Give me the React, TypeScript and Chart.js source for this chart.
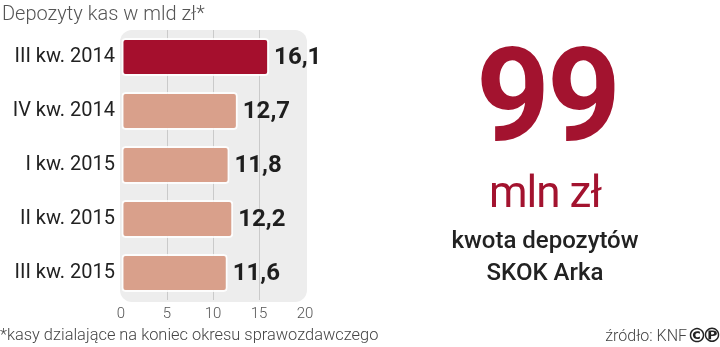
import React, { useEffect, useRef } from "react";
import { Chart, registerables } from "chart.js";

Chart.register(...registerables);

const title = "Depozyty kas w mld zł*";
const categories = ["III kw. 2014", "IV kw. 2014", "I kw. 2015", "II kw. 2015", "III kw. 2015"];
const deposits = [16.1, 12.7, 11.8, 12.2, 11.6];
const barColors = ["#A50F2D", "#D9A08B", "#D9A08B", "#D9A08B", "#D9A08B"];
const xTicks = [0, 5, 10, 15, 20];
const bigNumber = "99";
const bigUnit = "mln zł";
const caption = ["kwota depozytów", "SKOK Arka"];
const footnote = "*kasy dzialające na koniec okresu sprawozdawczego";
const source = "źródło: KNF";
const licenseMarks = ["©", "℗"];

const FONT = "Roboto, 'Noto Sans', 'DejaVu Sans', sans-serif";

const fmt = (v: number) => v.toFixed(1).replace(".", ",");

const plotBg = {
  id: "plotBg",
  beforeDraw(chart: any) {
    const { ctx, chartArea: a } = chart;
    ctx.save();
    ctx.fillStyle = "#EDEDED";
    ctx.beginPath();
    (ctx as any).roundRect(a.left - 1, a.top, a.right - a.left + 3, a.bottom - a.top + 2, 12);
    ctx.fill();
    ctx.restore();
  },
};

const valueLabels = {
  id: "valueLabels",
  afterDatasetsDraw(chart: any) {
    const { ctx } = chart;
    const meta = chart.getDatasetMeta(0);
    ctx.save();
    ctx.font = `bold 24px ${FONT}`;
    ctx.fillStyle = "#1E1E1E";
    ctx.textAlign = "left";
    ctx.textBaseline = "middle";
    meta.data.forEach((el: any, i: number) => {
      ctx.fillText(fmt(deposits[i]), el.x + 5, el.y + 1);
    });
    ctx.restore();
  },
};

function BarChart() {
  const ref = useRef<HTMLCanvasElement | null>(null);
  useEffect(() => {
    if (!ref.current) return;
    const chart = new Chart(ref.current, {
      type: "bar",
      data: {
        labels: categories,
        datasets: [
          {
            data: deposits,
            backgroundColor: barColors,
            borderColor: "rgba(255,255,255,0.85)",
            borderWidth: 2,
            borderRadius: 4,
            borderSkipped: false,
            barPercentage: 0.7,
            categoryPercentage: 1,
          },
        ],
      },
      options: {
        indexAxis: "y",
        responsive: false,
        animation: false,
        layout: { padding: { top: 30, right: 415, left: 0, bottom: 0 } },
        plugins: { legend: { display: false }, tooltip: { enabled: false } },
        scales: {
          x: {
            min: xTicks[0],
            max: xTicks[xTicks.length - 1],
            afterBuildTicks: (s: any) => {
              s.ticks = xTicks.map((v) => ({ value: v }));
            },
            ticks: {
              color: "#555",
              font: { family: FONT, size: 15, weight: "300" },
              padding: 5,
            },
            grid: {
              drawTicks: false,
              color: (c: any) =>
                c.tick && c.tick.value > xTicks[0] && c.tick.value < xTicks[xTicks.length - 1]
                  ? "#CACACA"
                  : "rgba(0,0,0,0)",
              lineWidth: 1,
            },
            border: { display: false },
            afterFit: (s: any) => {
              s.height = 47;
            },
          },
          y: {
            ticks: {
              color: "#222",
              font: { family: FONT, size: 20 },
              padding: 6,
            },
            grid: { display: false, drawTicks: false },
            border: { display: false },
            afterFit: (s: any) => {
              s.width = 121;
            },
          },
        },
      },
      plugins: [plotBg, valueLabels],
    } as any);
    return () => chart.destroy();
  }, []);
  return <canvas ref={ref} width={720} height={347} style={{ position: "absolute", left: 0, top: 0 }} />;
}

export default function App() {
  const abs: React.CSSProperties = { position: "absolute", lineHeight: 1, whiteSpace: "nowrap", fontFamily: FONT };
  const mark: React.CSSProperties = {
    ...abs,
    top: 325,
    fontSize: 20,
    fontWeight: 700,
    color: "#222",
    fontFamily: "'DejaVu Sans', sans-serif",
  };
  return (
    <div style={{ position: "fixed", left: 0, top: 0, width: 720, height: 347, background: "#fff", overflow: "hidden" }}>
      <BarChart />
      <div style={{ ...abs, left: 2, top: 3, fontSize: 20, fontWeight: 300, color: "#555" }}>{title}</div>
      <div
        style={{
          ...abs,
          left: 547,
          top: 31,
          transform: "translateX(-50%)",
          fontSize: 129,
          fontWeight: 700,
          letterSpacing: -3,
          color: "#A3132F",
        }}
      >
        {bigNumber}
      </div>
      <div
        style={{
          ...abs,
          left: 545,
          top: 170,
          transform: "translateX(-50%)",
          fontSize: 44,
          fontWeight: 400,
          letterSpacing: -1,
          color: "#A3132F",
        }}
      >
        {bigUnit}
      </div>
      <div
        style={{
          ...abs,
          left: 545,
          top: 224,
          transform: "translateX(-50%)",
          fontSize: 24,
          lineHeight: "32px",
          fontWeight: 500,
          color: "#222",
          textAlign: "center",
        }}
      >
        {caption[0]}
        <br />
        {caption[1]}
      </div>
      <div style={{ ...abs, left: 0, top: 327, fontSize: 16.4, fontWeight: 300, color: "#444" }}>{footnote}</div>
      <div style={{ ...abs, right: 33, top: 328, fontSize: 16, fontWeight: 300, color: "#444" }}>{source}</div>
      <div style={{ ...mark, left: 687 }}>{licenseMarks[0]}</div>
      <div style={{ ...mark, left: 702 }}>{licenseMarks[1]}</div>
    </div>
  );
}
